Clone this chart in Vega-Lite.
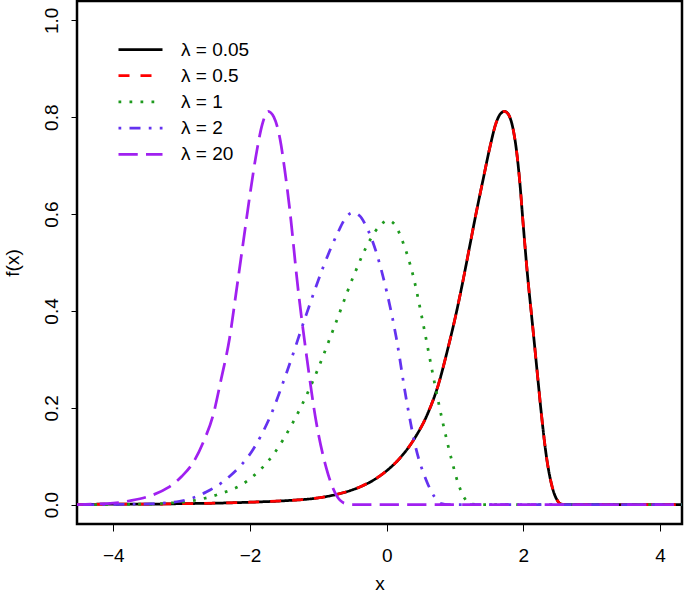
{
  "$schema": "https://vega.github.io/schema/vega-lite/v6.json",
  "width": 605,
  "height": 523,
  "autosize": "none",
  "padding": {"left": 77, "top": 1, "right": 3, "bottom": 75},
  "background": "white",
  "config": {
    "view": {"stroke": "black", "strokeWidth": 2.5},
    "font": "Liberation Sans",
    "axis": {"grid": false, "domain": false, "tickColor": "black", "tickWidth": 1, "labelColor": "black", "titleColor": "black", "labelFont": "Liberation Sans", "titleFont": "Liberation Sans", "labelFontSize": 19, "titleFontSize": 19, "titleFontWeight": "normal"}
  },
  "datasets": {
    "curves": [
      {"lambda": "λ = 0.05", "x": -4.6, "y": 0}, {"lambda": "λ = 0.05", "x": -4.0, "y": 0.001}, {"lambda": "λ = 0.05", "x": -3.5, "y": 0.001}, {"lambda": "λ = 0.05", "x": -3.0, "y": 0.002}, {"lambda": "λ = 0.05", "x": -2.5, "y": 0.003}, {"lambda": "λ = 0.05", "x": -2.0, "y": 0.005}, {"lambda": "λ = 0.05", "x": -1.5, "y": 0.008}, {"lambda": "λ = 0.05", "x": -1.0, "y": 0.014}, {"lambda": "λ = 0.05", "x": -0.8, "y": 0.019}, {"lambda": "λ = 0.05", "x": -0.6, "y": 0.026}, {"lambda": "λ = 0.05", "x": -0.4, "y": 0.036}, {"lambda": "λ = 0.05", "x": -0.2, "y": 0.05}, {"lambda": "λ = 0.05", "x": 0.0, "y": 0.07}, {"lambda": "λ = 0.05", "x": 0.2, "y": 0.097}, {"lambda": "λ = 0.05", "x": 0.4, "y": 0.135}, {"lambda": "λ = 0.05", "x": 0.6, "y": 0.188}, {"lambda": "λ = 0.05", "x": 0.75, "y": 0.245}, {"lambda": "λ = 0.05", "x": 0.9, "y": 0.325}, {"lambda": "λ = 0.05", "x": 1.02, "y": 0.397}, {"lambda": "λ = 0.05", "x": 1.12, "y": 0.465}, {"lambda": "λ = 0.05", "x": 1.215, "y": 0.534}, {"lambda": "λ = 0.05", "x": 1.31, "y": 0.603}, {"lambda": "λ = 0.05", "x": 1.41, "y": 0.671}, {"lambda": "λ = 0.05", "x": 1.51, "y": 0.738}, {"lambda": "λ = 0.05", "x": 1.6, "y": 0.788}, {"lambda": "λ = 0.05", "x": 1.67, "y": 0.808}, {"lambda": "λ = 0.05", "x": 1.725, "y": 0.812}, {"lambda": "λ = 0.05", "x": 1.78, "y": 0.806}, {"lambda": "λ = 0.05", "x": 1.85, "y": 0.775}, {"lambda": "λ = 0.05", "x": 1.9, "y": 0.73}, {"lambda": "λ = 0.05", "x": 1.944, "y": 0.671}, {"lambda": "λ = 0.05", "x": 2.003, "y": 0.568}, {"lambda": "λ = 0.05", "x": 2.066, "y": 0.465}, {"lambda": "λ = 0.05", "x": 2.115, "y": 0.397}, {"lambda": "λ = 0.05", "x": 2.164, "y": 0.328}, {"lambda": "λ = 0.05", "x": 2.212, "y": 0.259}, {"lambda": "λ = 0.05", "x": 2.261, "y": 0.19}, {"lambda": "λ = 0.05", "x": 2.335, "y": 0.101}, {"lambda": "λ = 0.05", "x": 2.43, "y": 0.032}, {"lambda": "λ = 0.05", "x": 2.5, "y": 0.008}, {"lambda": "λ = 0.05", "x": 2.55, "y": 0.001}, {"lambda": "λ = 0.05", "x": 2.7, "y": 0}, {"lambda": "λ = 0.05", "x": 3.5, "y": 0}, {"lambda": "λ = 0.05", "x": 4.4, "y": 0},

      {"lambda": "λ = 0.5", "x": -4.6, "y": 0}, {"lambda": "λ = 0.5", "x": -4.0, "y": 0.001}, {"lambda": "λ = 0.5", "x": -3.5, "y": 0.001}, {"lambda": "λ = 0.5", "x": -3.0, "y": 0.002}, {"lambda": "λ = 0.5", "x": -2.5, "y": 0.003}, {"lambda": "λ = 0.5", "x": -2.0, "y": 0.005}, {"lambda": "λ = 0.5", "x": -1.5, "y": 0.008}, {"lambda": "λ = 0.5", "x": -1.0, "y": 0.014}, {"lambda": "λ = 0.5", "x": -0.8, "y": 0.019}, {"lambda": "λ = 0.5", "x": -0.6, "y": 0.026}, {"lambda": "λ = 0.5", "x": -0.4, "y": 0.036}, {"lambda": "λ = 0.5", "x": -0.2, "y": 0.05}, {"lambda": "λ = 0.5", "x": 0.0, "y": 0.07}, {"lambda": "λ = 0.5", "x": 0.2, "y": 0.097}, {"lambda": "λ = 0.5", "x": 0.4, "y": 0.135}, {"lambda": "λ = 0.5", "x": 0.6, "y": 0.188}, {"lambda": "λ = 0.5", "x": 0.75, "y": 0.245}, {"lambda": "λ = 0.5", "x": 0.9, "y": 0.325}, {"lambda": "λ = 0.5", "x": 1.02, "y": 0.397}, {"lambda": "λ = 0.5", "x": 1.12, "y": 0.465}, {"lambda": "λ = 0.5", "x": 1.215, "y": 0.534}, {"lambda": "λ = 0.5", "x": 1.31, "y": 0.603}, {"lambda": "λ = 0.5", "x": 1.41, "y": 0.671}, {"lambda": "λ = 0.5", "x": 1.51, "y": 0.738}, {"lambda": "λ = 0.5", "x": 1.6, "y": 0.788}, {"lambda": "λ = 0.5", "x": 1.67, "y": 0.808}, {"lambda": "λ = 0.5", "x": 1.725, "y": 0.812}, {"lambda": "λ = 0.5", "x": 1.78, "y": 0.806}, {"lambda": "λ = 0.5", "x": 1.85, "y": 0.775}, {"lambda": "λ = 0.5", "x": 1.9, "y": 0.73}, {"lambda": "λ = 0.5", "x": 1.944, "y": 0.671}, {"lambda": "λ = 0.5", "x": 2.003, "y": 0.568}, {"lambda": "λ = 0.5", "x": 2.066, "y": 0.465}, {"lambda": "λ = 0.5", "x": 2.115, "y": 0.397}, {"lambda": "λ = 0.5", "x": 2.164, "y": 0.328}, {"lambda": "λ = 0.5", "x": 2.212, "y": 0.259}, {"lambda": "λ = 0.5", "x": 2.261, "y": 0.19}, {"lambda": "λ = 0.5", "x": 2.335, "y": 0.101}, {"lambda": "λ = 0.5", "x": 2.43, "y": 0.032}, {"lambda": "λ = 0.5", "x": 2.5, "y": 0.008}, {"lambda": "λ = 0.5", "x": 2.55, "y": 0.001}, {"lambda": "λ = 0.5", "x": 2.7, "y": 0}, {"lambda": "λ = 0.5", "x": 3.5, "y": 0}, {"lambda": "λ = 0.5", "x": 4.4, "y": 0},

      {"lambda": "λ = 1", "x": -4.6, "y": 0}, {"lambda": "λ = 1", "x": -3.5, "y": 0.001}, {"lambda": "λ = 1", "x": -3.2, "y": 0.003}, {"lambda": "λ = 1", "x": -2.88, "y": 0.007}, {"lambda": "λ = 1", "x": -2.49, "y": 0.02}, {"lambda": "λ = 1", "x": -2.05, "y": 0.048}, {"lambda": "λ = 1", "x": -1.66, "y": 0.103}, {"lambda": "λ = 1", "x": -1.37, "y": 0.17}, {"lambda": "λ = 1", "x": -1.08, "y": 0.255}, {"lambda": "λ = 1", "x": -0.78, "y": 0.362}, {"lambda": "λ = 1", "x": -0.49, "y": 0.47}, {"lambda": "λ = 1", "x": -0.25, "y": 0.545}, {"lambda": "λ = 1", "x": -0.1, "y": 0.576}, {"lambda": "λ = 1", "x": 0.02, "y": 0.587}, {"lambda": "λ = 1", "x": 0.12, "y": 0.578}, {"lambda": "λ = 1", "x": 0.24, "y": 0.541}, {"lambda": "λ = 1", "x": 0.4, "y": 0.465}, {"lambda": "λ = 1", "x": 0.53, "y": 0.376}, {"lambda": "λ = 1", "x": 0.68, "y": 0.266}, {"lambda": "λ = 1", "x": 0.82, "y": 0.17}, {"lambda": "λ = 1", "x": 0.96, "y": 0.087}, {"lambda": "λ = 1", "x": 1.05, "y": 0.042}, {"lambda": "λ = 1", "x": 1.14, "y": 0.013}, {"lambda": "λ = 1", "x": 1.25, "y": 0.001}, {"lambda": "λ = 1", "x": 1.4, "y": 0}, {"lambda": "λ = 1", "x": 4.4, "y": 0},

      {"lambda": "λ = 2", "x": -4.6, "y": 0}, {"lambda": "λ = 2", "x": -3.6, "y": 0.001}, {"lambda": "λ = 2", "x": -3.03, "y": 0.007}, {"lambda": "λ = 2", "x": -2.64, "y": 0.026}, {"lambda": "λ = 2", "x": -2.3, "y": 0.058}, {"lambda": "λ = 2", "x": -1.95, "y": 0.115}, {"lambda": "λ = 2", "x": -1.71, "y": 0.18}, {"lambda": "λ = 2", "x": -1.47, "y": 0.27}, {"lambda": "λ = 2", "x": -1.17, "y": 0.395}, {"lambda": "λ = 2", "x": -0.93, "y": 0.49}, {"lambda": "λ = 2", "x": -0.72, "y": 0.56}, {"lambda": "λ = 2", "x": -0.6, "y": 0.592}, {"lambda": "λ = 2", "x": -0.5, "y": 0.603}, {"lambda": "λ = 2", "x": -0.4, "y": 0.597}, {"lambda": "λ = 2", "x": -0.3, "y": 0.575}, {"lambda": "λ = 2", "x": -0.15, "y": 0.52}, {"lambda": "λ = 2", "x": 0.0, "y": 0.44}, {"lambda": "λ = 2", "x": 0.14, "y": 0.345}, {"lambda": "λ = 2", "x": 0.29, "y": 0.215}, {"lambda": "λ = 2", "x": 0.43, "y": 0.115}, {"lambda": "λ = 2", "x": 0.58, "y": 0.05}, {"lambda": "λ = 2", "x": 0.7, "y": 0.016}, {"lambda": "λ = 2", "x": 0.8, "y": 0.002}, {"lambda": "λ = 2", "x": 0.9, "y": 0}, {"lambda": "λ = 2", "x": 4.4, "y": 0},

      {"lambda": "λ = 20", "x": -4.6, "y": 0}, {"lambda": "λ = 20", "x": -4.3, "y": 0.001}, {"lambda": "λ = 20", "x": -4.0, "y": 0.003}, {"lambda": "λ = 20", "x": -3.76, "y": 0.008}, {"lambda": "λ = 20", "x": -3.46, "y": 0.018}, {"lambda": "λ = 20", "x": -3.2, "y": 0.035}, {"lambda": "λ = 20", "x": -3.0, "y": 0.058}, {"lambda": "λ = 20", "x": -2.83, "y": 0.087}, {"lambda": "λ = 20", "x": -2.68, "y": 0.13}, {"lambda": "λ = 20", "x": -2.54, "y": 0.184}, {"lambda": "λ = 20", "x": -2.42, "y": 0.26}, {"lambda": "λ = 20", "x": -2.3, "y": 0.342}, {"lambda": "λ = 20", "x": -2.2, "y": 0.44}, {"lambda": "λ = 20", "x": -2.1, "y": 0.54}, {"lambda": "λ = 20", "x": -2.0, "y": 0.64}, {"lambda": "λ = 20", "x": -1.9, "y": 0.73}, {"lambda": "λ = 20", "x": -1.82, "y": 0.785}, {"lambda": "λ = 20", "x": -1.735, "y": 0.812}, {"lambda": "λ = 20", "x": -1.65, "y": 0.8}, {"lambda": "λ = 20", "x": -1.56, "y": 0.755}, {"lambda": "λ = 20", "x": -1.49, "y": 0.69}, {"lambda": "λ = 20", "x": -1.42, "y": 0.612}, {"lambda": "λ = 20", "x": -1.3, "y": 0.45}, {"lambda": "λ = 20", "x": -1.17, "y": 0.305}, {"lambda": "λ = 20", "x": -1.03, "y": 0.17}, {"lambda": "λ = 20", "x": -0.88, "y": 0.074}, {"lambda": "λ = 20", "x": -0.735, "y": 0.019}, {"lambda": "λ = 20", "x": -0.62, "y": 0.003}, {"lambda": "λ = 20", "x": -0.5, "y": 0}, {"lambda": "λ = 20", "x": 4.4, "y": 0}
    ]
  },
  "data": {"name": "curves"},
  "mark": {"type": "line", "strokeWidth": 2.75, "clip": true, "interpolate": "monotone", "strokeCap": "butt"},
  "encoding": {
    "x": {
      "field": "x", "type": "quantitative",
      "scale": {"domain": [-4.53, 4.32], "nice": false, "zero": false},
      "axis": {"values": [-4, -2, 0, 2, 4], "tickSize": 7, "labelPadding": 15, "title": "x", "titlePadding": 9}
    },
    "y": {
      "field": "y", "type": "quantitative",
      "scale": {"domain": [-0.04, 1.04], "nice": false, "zero": false},
      "axis": {"values": [0, 0.2, 0.4, 0.6, 0.8, 1.0], "format": ".1f", "tickSize": 6, "labelAngle": -90, "labelAlign": "center", "labelBaseline": "bottom", "labelPadding": 10, "title": "f(x)", "titlePadding": 20}
    },
    "color": {
      "field": "lambda", "type": "nominal",
      "scale": {"domain": ["λ = 0.05", "λ = 0.5", "λ = 1", "λ = 2", "λ = 20"], "range": ["#000000", "#FF0000", "#1E9A1E", "#6432F0", "#A020F0"]},
      "legend": {"orient": "none", "legendX": 51, "legendY": 36, "title": null, "symbolType": "M-2,0H2", "symbolSize": 484, "symbolStrokeWidth": 2.75, "labelFontSize": 19, "labelFont": "Liberation Sans", "labelColor": "black", "labelOffset": 28, "rowPadding": 3.2, "padding": 0}
    },
    "strokeDash": {
      "field": "lambda", "type": "nominal",
      "scale": {"domain": ["λ = 0.05", "λ = 0.5", "λ = 1", "λ = 2", "λ = 20"], "range": [[1, 0], [11, 11], [2.75, 8.25], [2.75, 8.25, 11, 8.25], [19.25, 8.25]]},
      "legend": {"orient": "none", "legendX": 51, "legendY": 36, "title": null, "symbolType": "M-2,0H2", "symbolSize": 484, "symbolStrokeWidth": 2.75, "labelFontSize": 19, "labelFont": "Liberation Sans", "labelColor": "black", "labelOffset": 28, "rowPadding": 3.2, "padding": 0}
    }
  }
}
